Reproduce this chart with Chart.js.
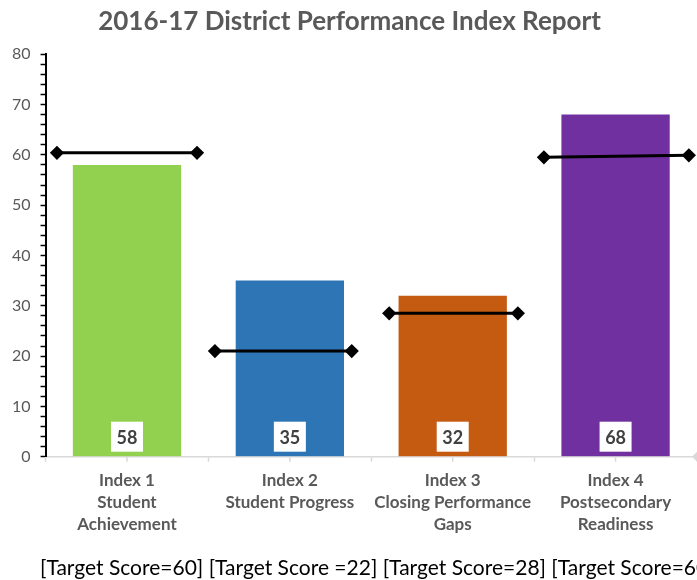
<!DOCTYPE html>
<html lang="en">
<head>
    <meta charset="UTF-8">
    <title>2016-17 District Performance Index Report</title>
    <script src="https://cdn.jsdelivr.net/npm/chart.js"></script>
    <style>
        body { margin: 0; background: #fff; }
        .janela { position: relative; width: 697px; height: 580px; overflow: hidden; }
        #nota {
            position: absolute; left: 40px; top: 555px;
            font-family: Lato, sans-serif; font-size: 21px; line-height: 24px;
            color: #000; white-space: nowrap;
        }
    </style>
</head>
<body>
    <div class="janela">
        <canvas id="indexChart" width="697" height="580"></canvas>
        <div id="nota">[Target Score=60] [Target Score =22] [Target Score=28] [Target Score=60]</div>
    </div>

    <script>
        // dados
        const categorias = [
            ['Index 1', 'Student', 'Achievement'],
            ['Index 2', 'Student Progress'],
            ['Index 3', 'Closing Performance', 'Gaps'],
            ['Index 4', 'Postsecondary', 'Readiness']
        ];
        const pontos = [58, 35, 32, 68];
        const cores = ['#92d050', '#2e75b6', '#c55a11', '#7030a0'];

        // linhas de meta (x em unidades de categoria)
        const metaInicioX = [-0.43, 0.54, 1.61, 2.56];
        const metaFimX = [0.43, 1.38, 2.40, 3.45];
        const metaInicioY = [60.4, 21.0, 28.5, 59.5];
        const metaFimY = [60.4, 21.0, 28.5, 59.9];

        const yMin = 0, yMax = 80, yPasso = 10;

        const linhasMeta = metaInicioX.map((x0, i) => ({
            type: 'line',
            xAxisID: 'x2',
            order: 0,
            data: [{ x: x0, y: metaInicioY[i] }, { x: metaFimX[i], y: metaFimY[i] }],
            borderColor: '#000',
            borderWidth: 3,
            pointStyle: 'rectRot',
            pointRadius: 5,
            pointBackgroundColor: '#000',
            pointBorderColor: '#000'
        }));

        const extras = {
            id: 'extras',
            afterDatasetsDraw(chart) {
                const ctx = chart.ctx;
                const area = chart.chartArea;
                const x = chart.scales.x;
                ctx.save();
                // marcas no centro de cada categoria
                ctx.strokeStyle = '#d9d9d9';
                ctx.lineWidth = 1.5;
                categorias.forEach((c, i) => {
                    const px = x.getPixelForValue(i);
                    ctx.beginPath();
                    ctx.moveTo(px, area.bottom);
                    ctx.lineTo(px, area.bottom + 5);
                    ctx.stroke();
                });
                // ponta do eixo x
                ctx.fillStyle = '#d9d9d9';
                ctx.beginPath();
                ctx.moveTo(area.right - 5, area.bottom);
                ctx.lineTo(area.right, area.bottom - 5);
                ctx.lineTo(area.right + 5, area.bottom);
                ctx.lineTo(area.right, area.bottom + 5);
                ctx.fill();
                // rótulos de valor
                const meta = chart.getDatasetMeta(0);
                ctx.font = 'bold 18px Lato, sans-serif';
                ctx.textAlign = 'center';
                ctx.textBaseline = 'middle';
                meta.data.forEach((bar, i) => {
                    ctx.fillStyle = '#fff';
                    ctx.fillRect(bar.x - 16, area.bottom - 35, 32, 30);
                    ctx.fillStyle = '#404040';
                    ctx.fillText(pontos[i], bar.x, area.bottom - 19);
                });
                ctx.restore();
            }
        };

        const ctx = document.getElementById('indexChart').getContext('2d');
        const indexChart = new Chart(ctx, {
            type: 'bar',
            data: {
                labels: categorias,
                datasets: [{
                    data: pontos,
                    backgroundColor: cores,
                    categoryPercentage: 1,
                    barPercentage: 0.665,
                    grouped: false,
                    order: 1
                }, ...linhasMeta]
            },
            options: {
                responsive: false,
                animation: false,
                layout: { autoPadding: false, padding: { left: 2, right: 0, top: 0, bottom: 36 } },
                plugins: {
                    legend: { display: false },
                    tooltip: { enabled: false },
                    title: {
                        display: true,
                        text: '2016-17 District Performance Index Report',
                        color: '#595959',
                        font: { family: 'Lato', size: 26, weight: 'bold' },
                        padding: { top: 6, bottom: 17 }
                    }
                },
                scales: {
                    x: {
                        offset: true,
                        grid: { drawOnChartArea: false, offset: true, tickLength: 5, tickColor: '#d9d9d9', tickWidth: 1.5 },
                        border: { color: '#d9d9d9', width: 1.5 },
                        ticks: {
                            color: '#595959',
                            padding: 8,
                            maxRotation: 0,
                            autoSkip: false,
                            font: { family: 'Lato', size: 17, weight: 'bold', lineHeight: 1.3 }
                        }
                    },
                    // eixo auxiliar invisível para as linhas de meta
                    x2: {
                        type: 'linear',
                        display: false,
                        offset: false,
                        min: -0.5,
                        max: categorias.length - 0.5
                    },
                    y: {
                        min: yMin,
                        max: yMax,
                        grid: { drawOnChartArea: false, tickLength: 5, tickColor: '#000', tickWidth: 1.5 },
                        border: { color: '#000', width: 2 },
                        ticks: {
                            stepSize: 2,
                            autoSkip: false,
                            padding: 10,
                            color: '#595959',
                            font: { family: 'Lato', size: 16 },
                            callback: v => (v % yPasso === 0 ? v : '')
                        }
                    }
                }
            },
            plugins: [extras]
        });
    </script>
</body>
</html>
